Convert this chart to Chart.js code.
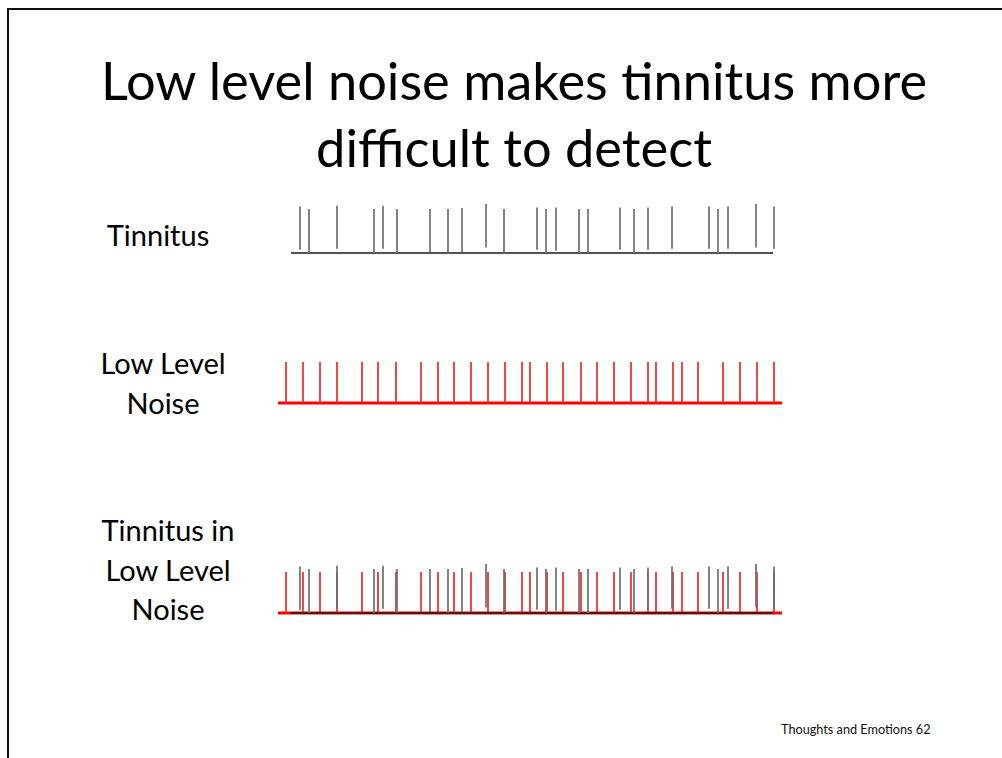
<!DOCTYPE html>
<html>
<head>
<meta charset="utf-8">
<script src="https://cdn.jsdelivr.net/npm/chart.js@4.4.1/dist/chart.umd.min.js"></script>
<style>
  html, body { margin: 0; padding: 0; background: #fff; }
  body { width: 1002px; height: 758px; position: relative; overflow: hidden; font-family: Lato, "Open Sans", sans-serif; color: #000; }
  .frame { position: absolute; left: 7px; top: 8px; right: -10px; bottom: -10px; border-top: 2px solid #111; border-left: 2px solid #111; }
  .title { position: absolute; left: 0; width: 1028px; top: 46px; text-align: center; font-size: 52.4px; line-height: 67px; white-space: nowrap; }
  .lbl { position: absolute; width: 200px; text-align: center; font-size: 29px; line-height: 39.5px; white-space: nowrap; }
  .foot { position: absolute; left: 781px; top: 721px; font-size: 12.7px; line-height: 16px; color: #111; white-space: nowrap; }
  canvas { position: absolute; left: 270px; }
</style>
</head>
<body>
<div class="frame"></div>
<div class="title">Low level noise makes tinnitus more<br>difficult to detect</div>
<div class="lbl" style="left:58px; top:215px;">Tinnitus</div>
<div class="lbl" style="left:63px; top:343px;">Low Level<br>Noise</div>
<div class="lbl" style="left:68px; top:510px;">Tinnitus in<br>Low Level<br>Noise</div>
<div class="foot">Thoughts and Emotions 62</div>

<canvas id="c1" width="521" height="80" style="top:193px"></canvas>
<canvas id="c2" width="521" height="80" style="top:343px"></canvas>
<canvas id="c3" width="521" height="80" style="top:553px"></canvas>

<script>
// ---- data (time along the trace, amplitude above the baseline) ----
const tinnitusTimes  = [22, 31, 59, 96, 105, 119, 152, 170, 184, 208, 226, 259, 268, 278, 301, 310, 342, 356, 370, 394, 431, 440, 450, 478, 496];
const tinnitusTops   = [46.6, 44, 47.3, 44, 47.3, 44, 44, 44, 45, 49, 44, 45.6, 44, 45.6, 44, 44, 45.6, 44, 45.6, 46.6, 46.6, 44, 46.6, 49, 46.6];
const tinnitusLifts  = [3.3, 0, 4.3, 0, 4.3, 0, 1, 0, 1, 5.6, 0, 3.3, 0, 2.3, 0, 0, 3.3, 0, 3.3, 4.3, 4.3, 0, 4.3, 5.6, 4.3];
const tinnitusSpan   = [13, 495];

const noiseTimes = [8, 25, 42, 59, 84, 100, 118, 143, 160, 176, 193, 210, 227, 244, 252, 269, 285, 303, 319, 336, 353, 370, 378, 395, 404, 420, 445, 462, 479, 496];
const noiseTops  = [41, 41, 41, 41, 41, 41, 41, 41, 41, 41, 41, 41, 41, 41, 41, 41, 41, 41, 41, 41, 41, 41, 41, 41, 41, 41, 41, 41, 41, 41];
const noiseLifts = [0, 0, 0, 0, 0, 0, 0, 0, 0, 0, 0, 0, 0, 0, 0, 0, 0, 0, 0, 0, 0, 0, 0, 0, 0, 0, 0, 0, 0, 0];
const noiseSpan  = [0, 504];

const timeRange = [0, 505];
const ampRange  = [0, 50];

// ---- helpers ----
function spikePoints(times, lifts, tops) {
  const pts = [];
  times.forEach((t, i) => {
    pts.push({x: t, y: lifts[i]});
    pts.push({x: t, y: tops[i]});
    pts.push({x: t, y: null});
  });
  return pts;
}
function baselinePoints(span) {
  return [{x: span[0], y: 0}, {x: span[1], y: 0}];
}
const lineBase = { pointRadius: 0, pointHoverRadius: 0, tension: 0, fill: false, spanGaps: false, borderCapStyle: 'butt', clip: false };

const tinnitusSet = () => [
  Object.assign({ label: 'Tinnitus', data: spikePoints(tinnitusTimes, tinnitusLifts, tinnitusTops), borderColor: '#6e6e6e', borderWidth: 1.7, order: 0 }, lineBase),
  Object.assign({ label: 'Tinnitus baseline', data: baselinePoints(tinnitusSpan), borderColor: '#1a1a1a', borderWidth: 1.5, order: 1 }, lineBase)
];
const noiseSet = () => [
  Object.assign({ label: 'Low level noise', data: spikePoints(noiseTimes, noiseLifts, noiseTops), borderColor: '#ea2a2a', borderWidth: 1.7, order: 2 }, lineBase),
  Object.assign({ label: 'Noise baseline', data: baselinePoints(noiseSpan), borderColor: '#ff0000', borderWidth: 3, order: 3 }, lineBase)
];

function makeChart(id, datasets) {
  return new Chart(document.getElementById(id), {
    type: 'line',
    data: { datasets },
    options: {
      responsive: false,
      animation: false,
      events: [],
      layout: { padding: { left: 8, right: 8, top: 10, bottom: 20 } },
      plugins: { legend: { display: false }, tooltip: { enabled: false }, title: { display: false } },
      scales: {
        x: { type: 'linear', display: false, min: timeRange[0], max: timeRange[1] },
        y: { type: 'linear', display: false, min: ampRange[0], max: ampRange[1] }
      }
    }
  });
}

makeChart('c1', tinnitusSet());
makeChart('c2', noiseSet());
makeChart('c3', tinnitusSet().concat(noiseSet()));
</script>
</body>
</html>
